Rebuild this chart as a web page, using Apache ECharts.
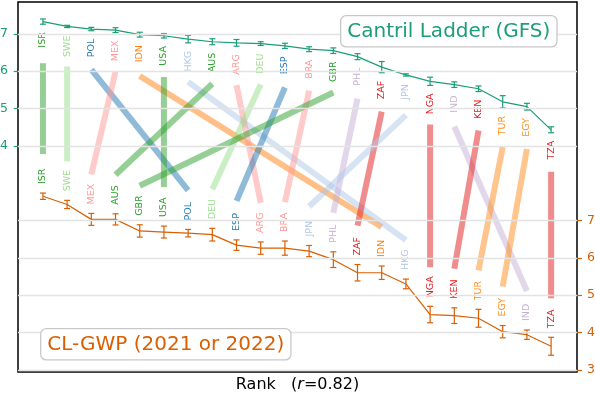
<!DOCTYPE html>
<html><head><meta charset="utf-8">
<script src="https://cdn.jsdelivr.net/npm/echarts@6/dist/echarts.min.js"></script>
<style>html,body{margin:0;padding:0;background:#fff}#c{width:595px;height:395px}</style>
</head><body><div id="c"></div>
<script>
// ---- data ----
const gfsOrder = ['ISR','SWE','POL','MEX','IDN','USA','HKG','AUS','ARG','DEU','ESP','BRA','GBR','PHL','ZAF','JPN','NGA','IND','KEN','TUR','EGY','TZA'];
const gfsValues = [7.33,7.20,7.13,7.10,6.98,6.95,6.86,6.79,6.76,6.74,6.68,6.59,6.55,6.39,6.11,5.90,5.73,5.64,5.53,5.18,5.05,4.43];
const gfsErr = [0.07,0.03,0.045,0.065,0.065,0.06,0.10,0.08,0.09,0.05,0.07,0.065,0.075,0.08,0.15,0.03,0.11,0.075,0.075,0.165,0.09,0.08];
const gwpOrder = ['ISR','SWE','MEX','AUS','GBR','USA','POL','DEU','ESP','ARG','BRA','JPN','PHL','ZAF','IDN','HKG','NGA','KEN','TUR','EGY','IND','TZA'];
const gwpValues = [7.65,7.43,7.03,7.03,6.72,6.69,6.66,6.62,6.34,6.26,6.26,6.18,5.95,5.60,5.60,5.30,4.48,4.45,4.38,4.02,3.94,3.63];
const gwpErr = [0.085,0.11,0.16,0.15,0.165,0.16,0.10,0.17,0.14,0.165,0.19,0.15,0.21,0.22,0.18,0.13,0.22,0.21,0.24,0.165,0.125,0.24];
const leftTicks = [4,5,6,7];
const rightTicks = [3,4,5,6,7];
const correlation = '0.82';

// ---- styles ----
const countryColor = {
  ISR:'#2ca02c', SWE:'#98df8a', POL:'#1f77b4', MEX:'#ff9896', IDN:'#ff7f0e', USA:'#2ca02c',
  HKG:'#aec7e8', AUS:'#2ca02c', ARG:'#ff9896', DEU:'#98df8a', ESP:'#1f77b4', BRA:'#ff9896',
  GBR:'#2ca02c', PHL:'#c5b0d5', ZAF:'#e41a1c', JPN:'#aec7e8', NGA:'#e41a1c', IND:'#c5b0d5',
  KEN:'#e41a1c', TUR:'#ff8c1a', EGY:'#ff8c1a', TZA:'#e41a1c'
};
const GREEN = '#1b9e77', ORANGE = '#d95f02';
const FONT = '"DejaVu Sans", "Noto Sans", sans-serif';
const L_MIN = -2.06, L_MAX = 7.855;
const R_MIN = L_MIN + 5, R_MAX = L_MAX + 5;
const SHIFT = R_MIN - L_MIN;

const chart = echarts.init(document.getElementById('c'), null, {renderer:'canvas'});

const gfsLine = gfsValues.map((v,i)=>[i+1, v]);
const gwpLine = gwpValues.map((v,i)=>[i+1, v]);
const gfsErrData = gfsValues.map((v,i)=>[i+1, v, gfsErr[i]]);
const gwpErrData = gwpValues.map((v,i)=>[i+1, v, gwpErr[i]]);
const connData = gfsOrder.map((c,i)=>{
  const j = gwpOrder.indexOf(c);
  return [i+1, gfsValues[i], gfsErr[i], j+1, gwpValues[j], gwpErr[j], i];
});
const topLabelData = gfsOrder.map((c,i)=>[i+1, gfsValues[i], gfsErr[i], i]);
const botLabelData = gwpOrder.map((c,i)=>[i+1, gwpValues[i], gwpErr[i], i]);

function errRender(color){
  return function(params, api){
    const x = api.value(0), v = api.value(1), e = api.value(2);
    const p1 = api.coord([x, v+e]), p2 = api.coord([x, v-e]);
    const w = 3;
    const st = {stroke: color, lineWidth: 1.2, fill: null};
    return {type:'group', children:[
      {type:'line', shape:{x1:p1[0],y1:p1[1],x2:p2[0],y2:p2[1]}, style:st},
      {type:'line', shape:{x1:p1[0]-w,y1:p1[1],x2:p1[0]+w,y2:p1[1]}, style:st},
      {type:'line', shape:{x1:p2[0]-w,y1:p2[1],x2:p2[0]+w,y2:p2[1]}, style:st}
    ]};
  };
}

const option = {
  animation:false,
  backgroundColor:'#fff',
  grid:{left:18, right:18, top:2, bottom:23, outerBoundsMode:'none', containLabel:false,
    show:true, borderColor:'#000', borderWidth:1.5, backgroundColor:'transparent'},
  xAxis:{type:'value', min:-0.03, max:23.07,
    axisLine:{show:false}, axisTick:{show:false}, axisLabel:{show:false}, splitLine:{show:false},
    name:'Rank   ({i|r}=' + correlation + ')', nameLocation:'middle', nameGap:5,
    nameTextStyle:{fontFamily:FONT, fontSize:16, color:'#000', verticalAlign:'top',
      rich:{i:{fontFamily:FONT, fontSize:16, fontStyle:'italic', color:'#000'}}}
  },
  yAxis:[
    {type:'value', position:'left', min:L_MIN, max:L_MAX,
      axisLine:{show:false},
      axisTick:{show:true, length:5, customValues:leftTicks, lineStyle:{color:GREEN, width:1.2}},
      axisLabel:{show:true, customValues:leftTicks, color:GREEN, fontFamily:FONT, fontSize:12.5, margin:10},
      splitLine:{show:false}},
    {type:'value', position:'right', min:R_MIN, max:R_MAX,
      axisLine:{show:false},
      axisTick:{show:true, length:5, customValues:rightTicks, lineStyle:{color:ORANGE, width:1.2}},
      axisLabel:{show:true, customValues:rightTicks, color:ORANGE, fontFamily:FONT, fontSize:12.5, margin:10},
      splitLine:{show:false}}
  ],
  series:[
    {type:'line', name:'gridL', data:[], yAxisIndex:0, z:0, silent:true,
      markLine:{silent:true, symbol:'none', label:{show:false}, animation:false,
        lineStyle:{color:'#e3e3e3', type:'solid', width:1.3},
        data: leftTicks.map(v=>({yAxis:v}))}},
    {type:'line', name:'gridR', data:[], yAxisIndex:1, z:0, silent:true,
      markLine:{silent:true, symbol:'none', label:{show:false}, animation:false,
        lineStyle:{color:'#e3e3e3', type:'solid', width:1.3},
        data: rightTicks.map(v=>({yAxis:v}))}},
    {type:'custom', name:'connectors', yAxisIndex:0, z:2, silent:true, data:connData,
      renderItem:function(params, api){
        const x1 = api.value(0), g = api.value(1), ge = api.value(2);
        const x2 = api.value(3), r = api.value(4), re = api.value(5);
        const c = gfsOrder[api.value(6)];
        const p1 = api.coord([x1, g - ge]);
        const p2 = api.coord([x2, r + re - SHIFT]);
        return {type:'line', shape:{x1:p1[0], y1:p1[1]+39, x2:p2[0], y2:p2[1]-39},
          style:{stroke:countryColor[c], lineWidth:6, opacity:0.5, lineCap:'butt'}};
      }},
    {type:'line', name:'Cantril Ladder (GFS)', yAxisIndex:0, z:3, data:gfsLine, symbol:'none',
      lineStyle:{color:GREEN, width:1.2}},
    {type:'custom', name:'gfsErr', yAxisIndex:0, z:3, data:gfsErrData, renderItem:errRender(GREEN)},
    {type:'line', name:'CL-GWP', yAxisIndex:1, z:3, data:gwpLine, symbol:'none',
      lineStyle:{color:ORANGE, width:1.2}},
    {type:'custom', name:'gwpErr', yAxisIndex:1, z:3, data:gwpErrData, renderItem:errRender(ORANGE)},
    {type:'custom', name:'topLabels', yAxisIndex:0, z:4, data:topLabelData,
      renderItem:function(params, api){
        const c = gfsOrder[api.value(3)];
        const p = api.coord([api.value(0), api.value(1) - api.value(2)]);
        return {type:'text', x:p[0], y:p[1]+8, rotation:Math.PI/2,
          style:{text:c, fill:countryColor[c], font:'9.5px ' + FONT, align:'right', verticalAlign:'middle'}};
      }},
    {type:'custom', name:'botLabels', yAxisIndex:1, z:4, data:botLabelData,
      renderItem:function(params, api){
        const c = gwpOrder[api.value(3)];
        const p = api.coord([api.value(0), api.value(1) + api.value(2)]);
        return {type:'text', x:p[0], y:p[1]-9, rotation:Math.PI/2,
          style:{text:c, fill:countryColor[c], font:'9.5px ' + FONT, align:'left', verticalAlign:'middle'}};
      }}
  ],
  graphic:[
    {type:'text', left:340, top:15, z:10,
      style:{text:'Cantril Ladder (GFS)', fill:GREEN, font:'20px ' + FONT,
        backgroundColor:'#fff', borderColor:'#c8c8c8', borderWidth:1.3, borderRadius:5, padding:[5,6,5,6]}},
    {type:'text', left:40, top:328, z:10,
      style:{text:'CL-GWP (2021 or 2022)', fill:ORANGE, font:'20px ' + FONT,
        backgroundColor:'#fff', borderColor:'#c8c8c8', borderWidth:1.3, borderRadius:5, padding:[5,6,5,6]}}
  ]
};
chart.setOption(option);
</script>
</body></html>
